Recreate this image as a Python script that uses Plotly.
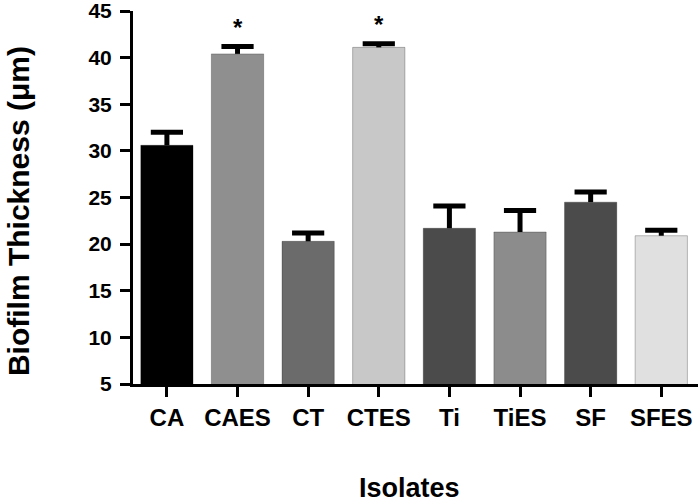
import plotly.graph_objects as go

# ---- data ----
isolates = ["CA", "CAES", "CT", "CTES", "Ti", "TiES", "SF", "SFES"]
thickness = [30.6, 40.4, 20.3, 41.1, 21.7, 21.3, 24.5, 20.9]
sem = [1.4, 0.8, 0.9, 0.4, 2.4, 2.3, 1.1, 0.6]
significant = ["CAES", "CTES"]
y_ticks = [5, 10, 15, 20, 25, 30, 35, 40, 45]

# ---- style ----
bar_colors = ["#000000", "#8f8f8f", "#6b6b6b", "#c8c8c8",
              "#4b4b4b", "#8c8c8c", "#4b4b4b", "#e0e0e0"]
FONT = "Liberation Sans, Arial, Helvetica, sans-serif"

upper = [m + e for m, e in zip(thickness, sem)]

fig = go.Figure()
fig.add_trace(go.Bar(
    x=isolates,
    y=thickness,
    marker=dict(color=bar_colors, line=dict(color="rgba(0,0,0,0.25)", width=1)),
    showlegend=False,
    hoverinfo="skip",
))

# upper-only error bars: stems + caps
stem_x, stem_y = [], []
for c, m, u in zip(isolates, thickness, upper):
    stem_x += [c, c, None]
    stem_y += [m, u, None]
fig.add_trace(go.Scatter(
    x=stem_x, y=stem_y, mode="lines",
    line=dict(color="black", width=5),
    showlegend=False, hoverinfo="skip",
))
fig.add_trace(go.Scatter(
    x=isolates, y=upper, mode="markers",
    marker=dict(symbol="line-ew", size=23, line=dict(color="black", width=5)),
    showlegend=False, hoverinfo="skip",
))

for cat in significant:
    i = isolates.index(cat)
    fig.add_annotation(x=cat, y=upper[i] + 2.0, text="*",
                       showarrow=False, yanchor="middle",
                       font=dict(family=FONT, size=24, color="black", weight="bold"))

# axis titles as annotations for precise placement
fig.add_annotation(text="Isolates", xref="paper", yref="paper",
                   x=0.49, y=-0.279, xanchor="center", yanchor="middle",
                   showarrow=False,
                   font=dict(family=FONT, size=27, color="black", weight="bold"))
fig.add_annotation(text="Biofilm Thickness (μm)", xref="paper", yref="paper",
                   x=-0.2354, y=0.465, xanchor="left", yanchor="middle",
                   textangle=-90, showarrow=False,
                   font=dict(family=FONT, size=30, color="black", weight="bold"))

fig.update_layout(
    width=700, height=503,
    margin=dict(l=133, r=2, t=11, b=119),
    plot_bgcolor="white", paper_bgcolor="white",
    bargap=0.26,
    font=dict(family=FONT, color="black"),
)
fig.update_xaxes(
    range=[-0.48, 7.52], automargin=False,
    showline=True, linecolor="black", linewidth=3,
    ticks="outside", ticklen=10, tickwidth=3, tickcolor="black",
    tickfont=dict(family=FONT, size=24, color="black", weight="bold"),
    ticklabeloverflow="allow",
    showgrid=False, zeroline=False,
)
fig.update_yaxes(
    range=[5, 45], automargin=False,
    tickvals=y_ticks,
    showline=True, linecolor="black", linewidth=3,
    ticks="outside", ticklen=10, tickwidth=3, tickcolor="black",
    tickfont=dict(family=FONT, size=21, color="black", weight="bold"),
    ticklabelstandoff=4, ticklabeloverflow="allow",
    showgrid=False, zeroline=False,
)

fig.write_html("out.html",
               config={"displayModeBar": False},
               post_script="document.body.style.margin='0';document.body.style.overflow='hidden';")
